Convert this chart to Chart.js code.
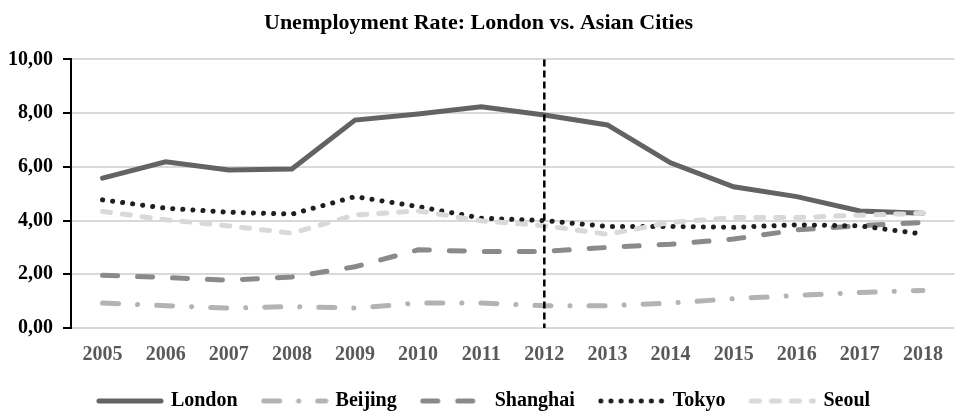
<!DOCTYPE html>
<html>
<head>
<meta charset="utf-8">
<script src="https://cdn.jsdelivr.net/npm/chart.js@4/dist/chart.umd.min.js"></script>
<style>
  html, body { margin: 0; padding: 0; background: #fff; }
  #wrap { width: 958px; height: 411px; }
</style>
</head>
<body>
<div id="wrap"><canvas id="chart"></canvas></div>
<script>
const years = ['2005', '2006', '2007', '2008', '2009', '2010', '2011', '2012', '2013', '2014', '2015', '2016', '2017', '2018'];
const london = [5.58, 6.19, 5.88, 5.92, 7.74, 7.97, 8.24, 7.93, 7.56, 6.15, 5.26, 4.89, 4.36, 4.27];
const beijing = [0.93, 0.83, 0.74, 0.80, 0.74, 0.93, 0.93, 0.83, 0.83, 0.93, 1.09, 1.21, 1.32, 1.40];
const shanghai = [1.96, 1.88, 1.78, 1.90, 2.28, 2.91, 2.85, 2.85, 3.00, 3.12, 3.31, 3.65, 3.81, 3.93];
const tokyo = [4.77, 4.46, 4.31, 4.24, 4.89, 4.52, 4.09, 4.00, 3.78, 3.78, 3.75, 3.84, 3.80, 3.50];
const seoul = [4.34, 4.03, 3.80, 3.53, 4.21, 4.36, 3.99, 3.81, 3.49, 3.93, 4.11, 4.11, 4.20, 4.27];
const markerYear = '2012';

const FONT = "'Liberation Serif', 'Times New Roman', serif";
const LEGEND_LINE = 62;

// small canvas used as legend sample so the dash pattern shows
function legendSample(color, dash) {
  const c = document.createElement('canvas');
  c.width = LEGEND_LINE + 6;
  c.height = 6;
  const g = c.getContext('2d');
  g.strokeStyle = color;
  g.lineWidth = 5;
  g.lineCap = 'round';
  g.setLineDash(dash);
  g.beginPath();
  g.moveTo(3, 3);
  g.lineTo(LEGEND_LINE + 3, 3);
  g.stroke();
  return c;
}

// vertical dashed marker at one category + legend placement tweaks
const markerLine = {
  id: 'markerLine',
  afterInit(chart) {
    const fit = chart.legend.fit;
    chart.legend.fit = function () {
      fit.call(this);
      this.height = 46;
    };
  },
  afterLayout(chart) {
    chart.legend.left += 6;
    chart.legend.right += 6;
  },
  afterDatasetsDraw(chart) {
    const { ctx, chartArea, scales } = chart;
    const x = scales.x.getPixelForValue(years.indexOf(markerYear));
    ctx.save();
    ctx.strokeStyle = '#000';
    ctx.lineWidth = 2.5;
    ctx.setLineDash([7, 4]);
    ctx.beginPath();
    ctx.moveTo(x, chartArea.top);
    ctx.lineTo(x, chartArea.bottom);
    ctx.stroke();
    ctx.restore();
  }
};

function series(label, data, color, dash, order) {
  return {
    label, data,
    borderColor: color, backgroundColor: color,
    borderWidth: 5, borderDash: dash, borderCapStyle: 'round',
    pointRadius: 0, pointStyle: legendSample(color, dash),
    tension: 0, fill: false, order
  };
}

new Chart(document.getElementById('chart'), {
  type: 'line',
  data: {
    labels: years,
    datasets: [
      series('London', london, '#636363', [], 5),
      series('Beijing', beijing, '#b3b3b3', [16, 19, 0.1, 19], 4),
      series('Shanghai', shanghai, '#8a8a8a', [15, 20], 3),
      series('Tokyo', tokyo, '#1f1f1f', [0.1, 10], 2),
      series('Seoul', seoul, '#d9d9d9', [8, 12], 1),
    ],
  },
  options: {
    responsive: true,
    maintainAspectRatio: false,
    animation: false,
    layout: { padding: { left: 0, right: 1, top: 0, bottom: 0 } },
    plugins: {
      tooltip: { enabled: false },
      title: {
        display: true,
        text: 'Unemployment Rate: London vs. Asian Cities',
        color: '#000',
        font: { family: FONT, size: 22, weight: 'bold' },
        padding: { top: 10, bottom: 23 },
      },
      legend: {
        position: 'bottom',
        labels: {
          usePointStyle: true,
          pointStyleWidth: LEGEND_LINE,
          padding: 26,
          color: '#000',
          font: { family: FONT, size: 20, weight: 'bold' },
          sort: (a, b) => a.datasetIndex - b.datasetIndex,
        },
      },
    },
    scales: {
      x: {
        offset: true,
        grid: { display: false, drawTicks: false },
        border: { display: false },
        ticks: {
          color: '#595959',
          padding: 15,
          maxRotation: 0,
          autoSkip: false,
          font: { family: FONT, size: 20, weight: 'bold' },
        },
        afterFit(s) { s.height = 37; },
      },
      y: {
        min: 0, max: 10,
        grid: { color: '#d9d9d9', lineWidth: 2, tickColor: '#000', tickLength: 8 },
        border: { color: '#000', width: 2 },
        ticks: {
          stepSize: 2,
          color: '#000',
          padding: 10,
          font: { family: FONT, size: 20, weight: 'bold' },
          callback: v => v.toFixed(2).replace('.', ','),
        },
        afterFit(s) { s.width = 71; },
      },
    },
  },
  plugins: [markerLine],
});
</script>
</body>
</html>
